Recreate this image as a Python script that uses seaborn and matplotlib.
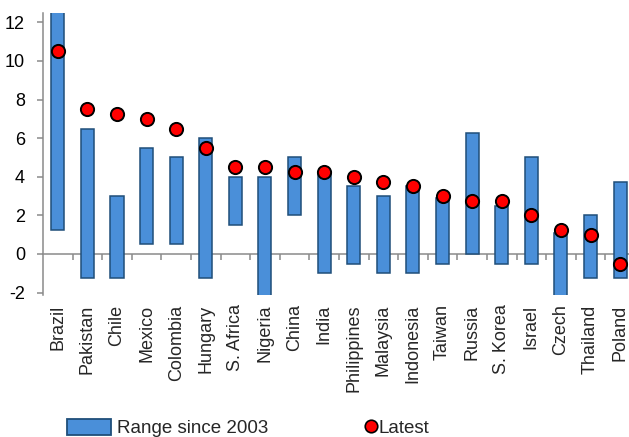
import numpy as np
import pandas as pd
import matplotlib
matplotlib.use("Agg")
import matplotlib.pyplot as plt
import seaborn as sns
from matplotlib.patches import Patch
from matplotlib.lines import Line2D

countries = ["Brazil", "Pakistan", "Chile", "Mexico", "Colombia", "Hungary",
             "S. Africa", "Nigeria", "China", "India", "Philippines", "Malaysia",
             "Indonesia", "Taiwan", "Russia", "S. Korea", "Israel", "Czech",
             "Thailand", "Poland"]
range_low = [1.25, -1.25, -1.25, 0.5, 0.5, -1.25, 1.5, -2.5, 2.0, -1.0,
             -0.5, -1.0, -1.0, -0.5, 0.0, -0.5, -0.5, -2.5, -1.25, -1.25]
range_high = [13.0, 6.5, 3.0, 5.5, 5.0, 6.0, 4.0, 4.0, 5.0, 4.25,
              3.5, 3.0, 3.5, 2.9, 6.25, 2.5, 5.0, 1.1, 2.0, 3.75]
latest = [10.5, 7.5, 7.25, 7.0, 6.5, 5.5, 4.5, 4.5, 4.25, 4.25,
          4.0, 3.75, 3.5, 3.0, 2.75, 2.75, 2.0, 1.25, 1.0, -0.5]
y_ticks = [-2, 0, 2, 4, 6, 8, 10, 12]

sns.set_style("white")
plt.rcParams["font.family"] = ["Liberation Sans", "DejaVu Sans"]
plt.rcParams["axes.unicode_minus"] = False

BAR_FILL = "#4A8FD9"
BAR_EDGE = "#1F4E79"
GREY = "#8A8A8A"

df = pd.DataFrame({"country": countries, "low": range_low,
                   "high": range_high, "latest": latest})
df["span"] = df["high"] - df["low"]

fig = plt.figure(figsize=(6.29, 4.37), dpi=100)
W, H = 629, 437
ax = fig.add_axes([43 / W, 1 - 294.7 / H, 1 - 43 / W, (294.7 - 12.7) / H])

sns.barplot(data=df, x="country", y="span", order=countries,
            bottom=df["low"].to_numpy(), width=0.44, color=BAR_FILL,
            saturation=1, edgecolor=BAR_EDGE, linewidth=1.1,
            errorbar=None, ax=ax)
sns.stripplot(data=df, x="country", y="latest", order=countries,
              jitter=False, color="#FF0000", edgecolor="black",
              linewidth=1.4, size=9.5, ax=ax, zorder=4)

ax.set_xlim(-0.5, 19.3)
ax.set_ylim(-2.11, 12.5)
ax.set_xlabel("")
ax.set_ylabel("")
ax.set_yticks(y_ticks)
ax.tick_params(axis="y", left=True, length=4, width=1.1, color=GREY,
               pad=9, labelsize=13, labelcolor="black")

for s in ["top", "right"]:
    ax.spines[s].set_visible(False)
ax.spines["left"].set_color(GREY)
ax.spines["left"].set_linewidth(1.1)
ax.spines["bottom"].set_position(("data", 0))
ax.spines["bottom"].set_color(GREY)
ax.spines["bottom"].set_linewidth(1.1)
ax.spines["bottom"].set_zorder(0.5)

ax.set_xticks(range(len(countries)))
ax.set_xticks(np.arange(0.5, len(countries) - 1, 1), minor=True)
ax.tick_params(axis="x", which="major", length=0, labelbottom=False)
ax.tick_params(axis="x", which="minor", bottom=True, length=4, width=1.1,
               color=GREY, direction="out")

sec = ax.secondary_xaxis("bottom")
sec.set_xticks(range(len(countries)), labels=countries, rotation=90)
sec.tick_params(length=0, pad=7, labelsize=13)
sec.spines["bottom"].set_visible(False)

h1 = Patch(facecolor=BAR_FILL, edgecolor=BAR_EDGE, linewidth=1.3)
fig.legend(handles=[h1], labels=["Range since 2003"], loc="center left",
           bbox_to_anchor=(67 / W, 1 - 428 / H), frameon=False,
           borderaxespad=0, borderpad=0, handlelength=2.35, handleheight=1.0,
           handletextpad=0.3, fontsize=13.5)
h2 = Line2D([], [], linestyle="none", marker="o", markersize=9,
            markerfacecolor="#FF0000", markeredgecolor="black",
            markeredgewidth=1.2)
fig.legend(handles=[h2], labels=["Latest"], loc="center left",
           bbox_to_anchor=(364 / W, 1 - 428 / H), frameon=False,
           borderaxespad=0, borderpad=0, handlelength=0.7,
           handletextpad=0.1, fontsize=13.5)

fig.savefig("out.png", dpi=100, facecolor="white")
